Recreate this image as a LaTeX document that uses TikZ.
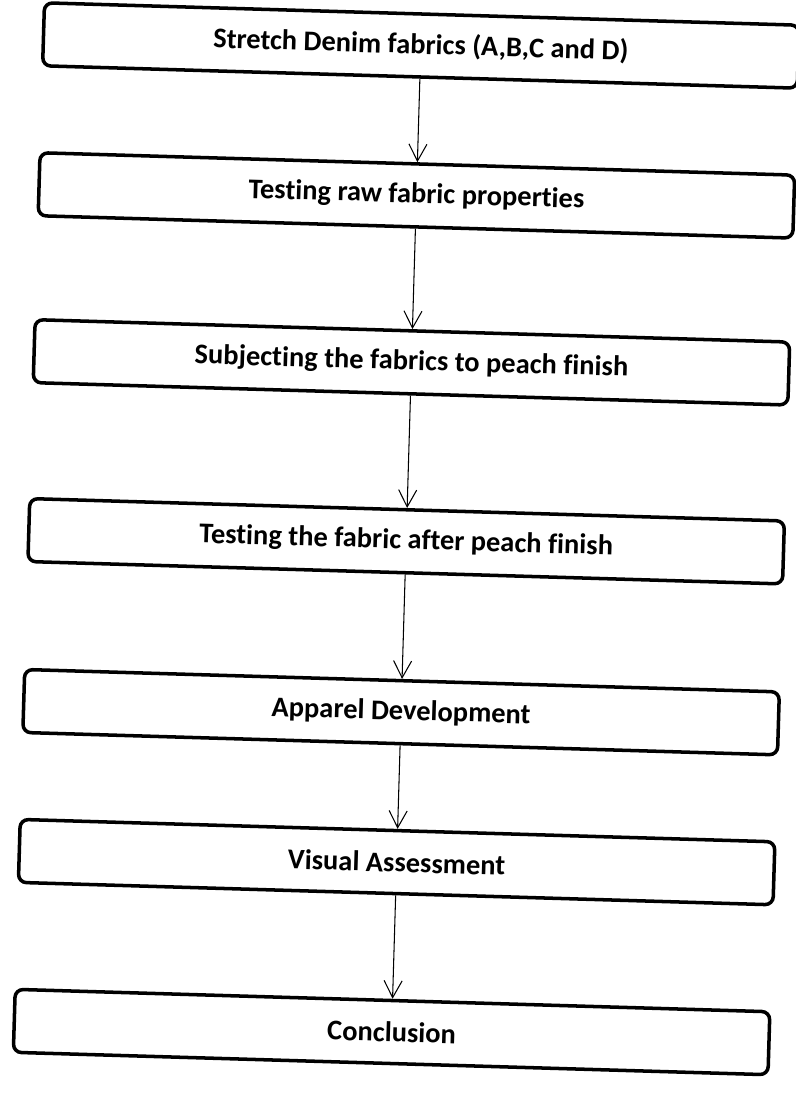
\documentclass[tikz,border=0pt]{standalone}
\usepackage{fontspec}
\setmainfont{Carlito}[Ligatures=NoCommon]
\usetikzlibrary{arrows.meta}
\tikzset{
	stage/.style={draw, line width=2pt, rounded corners=1.6mm, minimum width=15.1cm, minimum height=1.26cm, font=\fontsize{16.2}{18}\selectfont\bfseries},
	flow/.style={-{Straight Barb[length=3.4mm,width=3.6mm]}, line width=0.6pt}
}
\begin{document}
\begin{tikzpicture}
	\useasboundingbox (0,0) rectangle (15.9,-21.86);
	\begin{scope}[rotate around={-1.7:(7.95,-10.93)}, transform shape]
	\node[stage] (denim) at (8.12,-0.9) {Stretch Denim fabrics (A,B,C and D)};
	\node[stage] (raw) at (8.12,-3.9) {Testing raw fabric properties};
	\node[stage] (peach) at (8.12,-7.24) {Subjecting the fabrics to peach finish};
	\node[stage] (after) at (8.12,-10.82) {Testing the fabric after peach finish};
	\node[stage] (apparel) at (8.12,-14.24) {Apparel Development};
	\node[stage] (visual) at (8.12,-17.24) {Visual Assessment};
	\node[stage] (concl) at (8.12,-20.64) {Conclusion};
	\draw[flow] (denim) -- (raw);
	\draw[flow] (raw) -- (peach);
	\draw[flow] (peach) -- (after);
	\draw[flow] (after) -- (apparel);
	\draw[flow] (apparel) -- (visual);
	\draw[flow] (visual) -- (concl);
	\end{scope}
\end{tikzpicture}
\end{document}
